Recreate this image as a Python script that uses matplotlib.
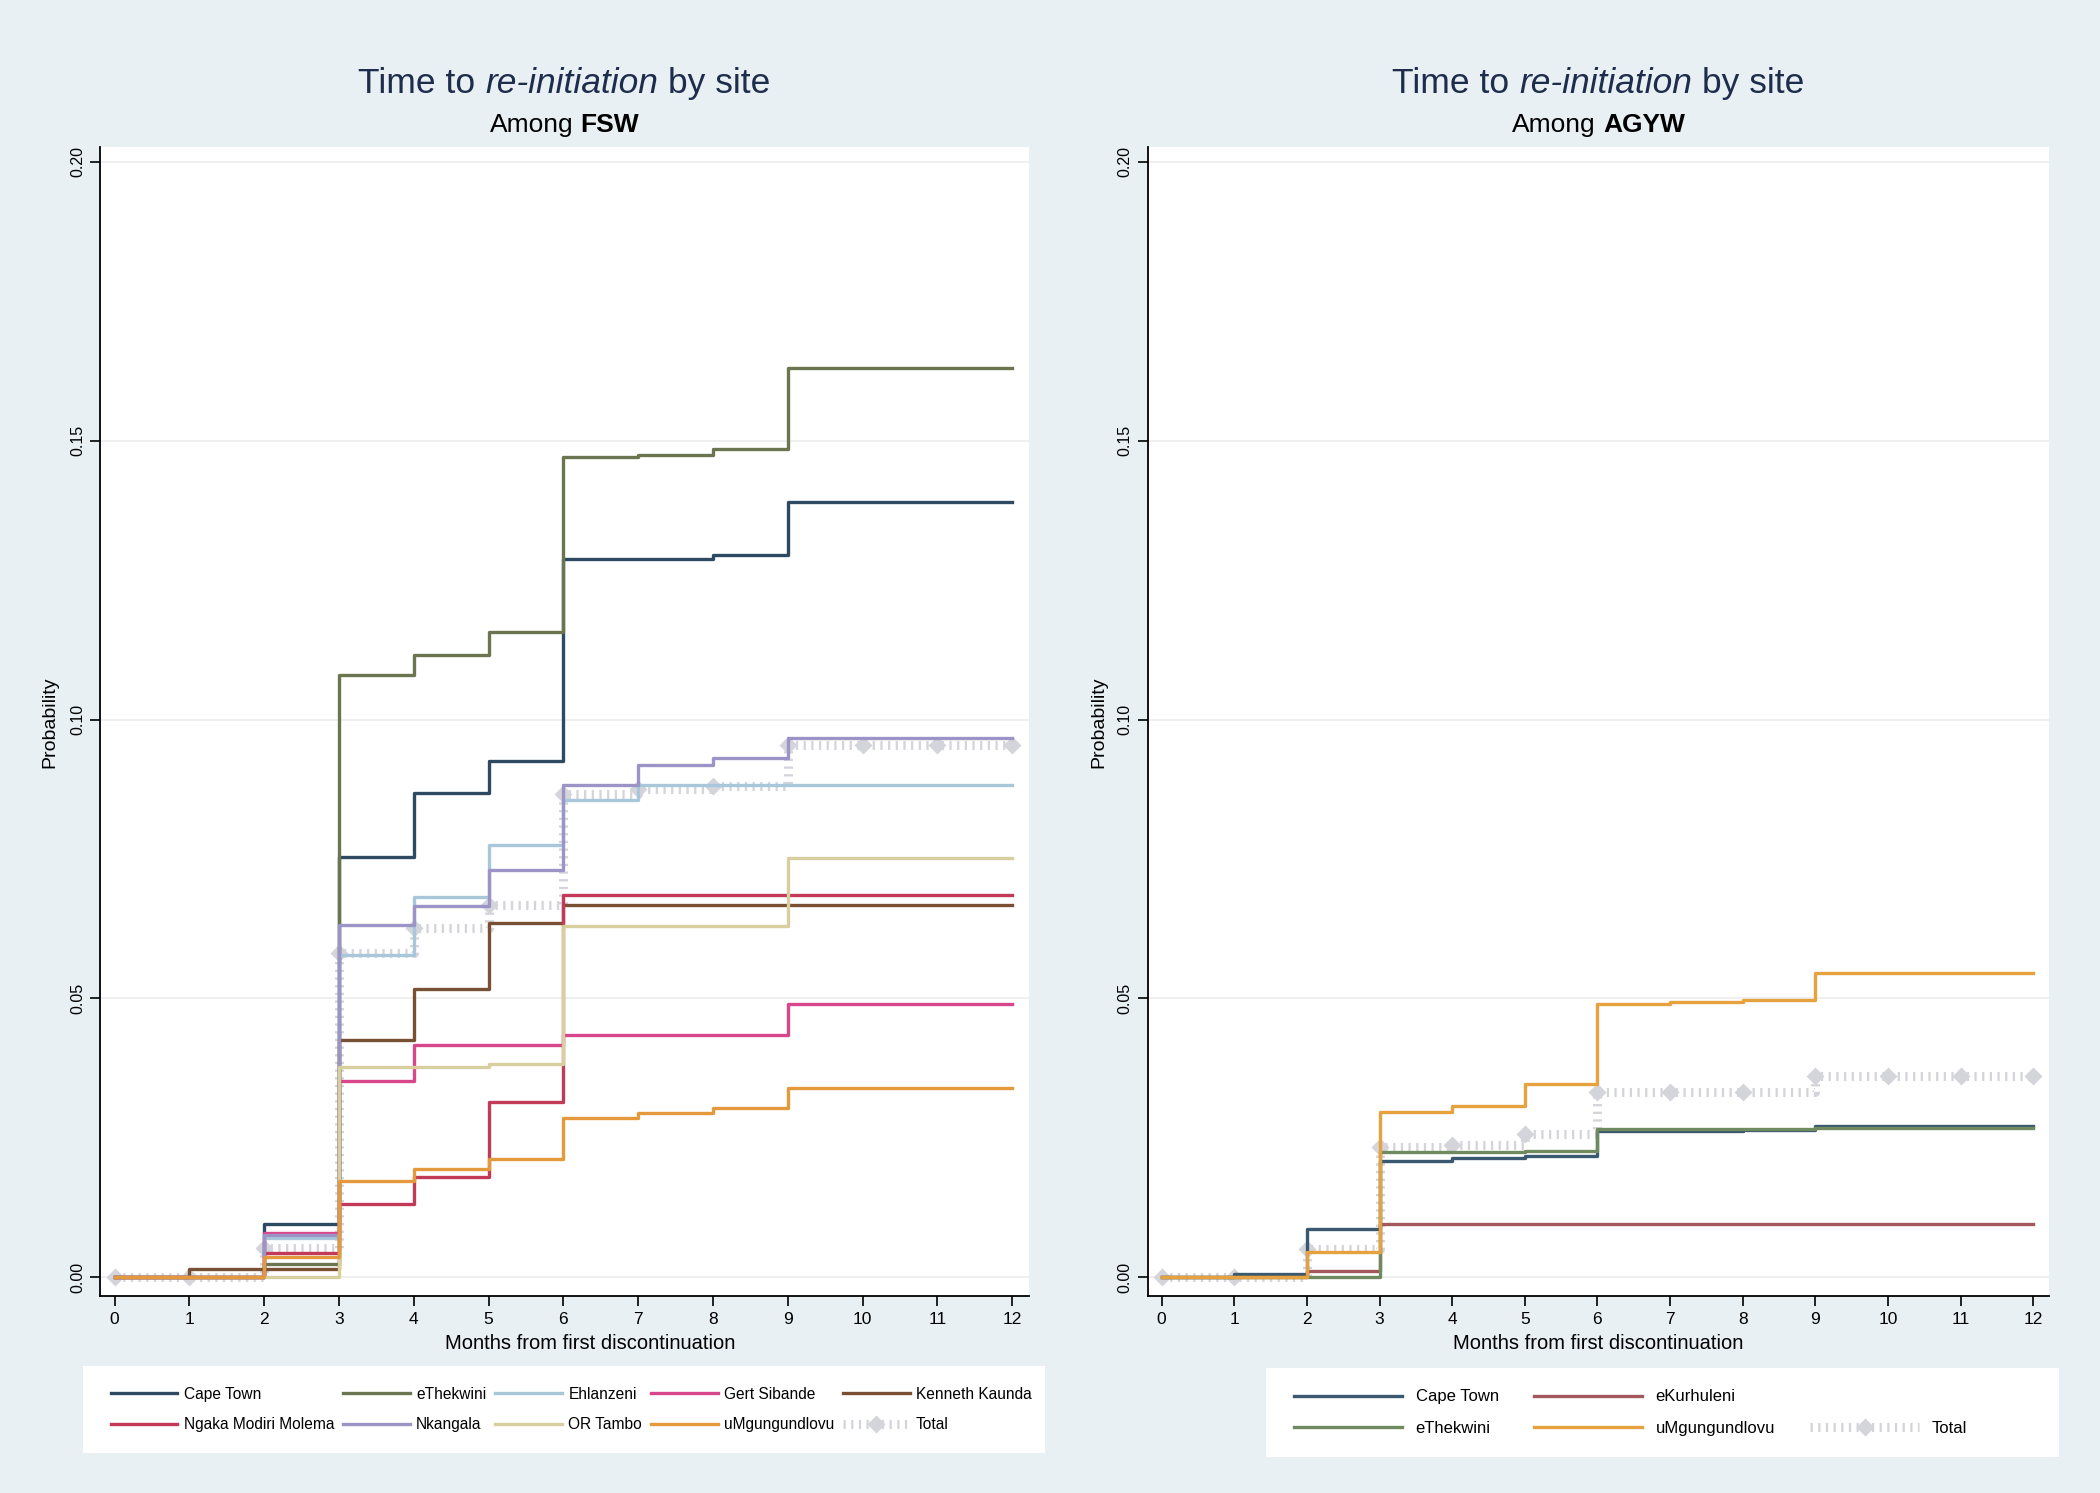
import matplotlib
matplotlib.use('Agg')
import matplotlib.pyplot as plt
from matplotlib.lines import Line2D
from matplotlib.patches import Rectangle
from matplotlib.ticker import FormatStrFormatter

plt.rcParams['font.family'] = ['Liberation Sans', 'DejaVu Sans']

# months from first discontinuation (value holds from month i to i+1)
months = list(range(13))

# FSW panel
fsw_sites = ['Cape Town', 'eThekwini', 'Ehlanzeni', 'Gert Sibande', 'Kenneth Kaunda',
             'Ngaka Modiri Molema', 'Nkangala', 'OR Tambo', 'uMgungundlovu']
fsw_cape_town = [0, 0, 0.0096, 0.0754, 0.0868, 0.0926, 0.1287, 0.1287, 0.1295, 0.139, 0.139, 0.139, 0.139]
fsw_ethekwini = [0, 0, 0.0024, 0.108, 0.1116, 0.1157, 0.147, 0.1474, 0.1485, 0.163, 0.163, 0.163, 0.163]
fsw_ehlanzeni = [0, 0, 0.0071, 0.0577, 0.0681, 0.0775, 0.0855, 0.0883, 0.0883, 0.0883, 0.0883, 0.0883, 0.0883]
fsw_gert_sibande = [0, 0, 0.0080, 0.0352, 0.0417, 0.0417, 0.0434, 0.0434, 0.0434, 0.049, 0.049, 0.049, 0.049]
fsw_kenneth_kaunda = [0, 0.0015, 0.0015, 0.0425, 0.0516, 0.0636, 0.0668, 0.0668, 0.0668, 0.0668, 0.0668, 0.0668, 0.0668]
fsw_ngaka = [0, 0, 0.0044, 0.0132, 0.0179, 0.0315, 0.0686, 0.0686, 0.0686, 0.0686, 0.0686, 0.0686, 0.0686]
fsw_nkangala = [0, 0, 0.0075, 0.0632, 0.0665, 0.073, 0.0883, 0.0919, 0.0931, 0.0967, 0.0967, 0.0967, 0.0967]
fsw_or_tambo = [0, 0, 0, 0.0377, 0.0377, 0.0382, 0.063, 0.063, 0.063, 0.0751, 0.0751, 0.0751, 0.0751]
fsw_umgungundlovu = [0, 0, 0.0036, 0.0172, 0.0194, 0.0212, 0.0285, 0.0294, 0.0304, 0.034, 0.034, 0.034, 0.034]
fsw_total = [0, 0, 0.0053, 0.0581, 0.0627, 0.0668, 0.0867, 0.0876, 0.088, 0.0955, 0.0955, 0.0955, 0.0955]

# AGYW panel
agyw_sites = ['Cape Town', 'eKurhuleni', 'eThekwini', 'uMgungundlovu']
agyw_cape_town = [0, 0.0006, 0.0087, 0.0209, 0.0214, 0.0217, 0.0262, 0.0262, 0.0264, 0.0272, 0.0272, 0.0272, 0.0272]
agyw_ekurhuleni = [0, 0, 0.0011, 0.0095, 0.0095, 0.0095, 0.0095, 0.0095, 0.0095, 0.0095, 0.0095, 0.0095, 0.0095]
agyw_ethekwini = [0, 0, 0, 0.0225, 0.0225, 0.0226, 0.0266, 0.0266, 0.0266, 0.0268, 0.0268, 0.0268, 0.0268]
agyw_umgungundlovu = [0, 0, 0.0046, 0.0296, 0.0307, 0.0347, 0.049, 0.0494, 0.0497, 0.0545, 0.0545, 0.0545, 0.0545]
agyw_total = [0, 0, 0.005, 0.0234, 0.0238, 0.0257, 0.0333, 0.0333, 0.0333, 0.036, 0.036, 0.036, 0.036]

fsw_series = [fsw_cape_town, fsw_ethekwini, fsw_ehlanzeni, fsw_gert_sibande, fsw_kenneth_kaunda,
              fsw_ngaka, fsw_nkangala, fsw_or_tambo, fsw_umgungundlovu]
fsw_colors = ['#2e4a62', '#6b7550', '#a9c7db', '#d8468c', '#7a5034',
              '#c23a58', '#9c94c6', '#d8cf9f', '#e49a3c']
agyw_series = [agyw_cape_town, agyw_ekurhuleni, agyw_ethekwini, agyw_umgungundlovu]
agyw_colors = ['#3a5870', '#a3585c', '#6f8a5e', '#e5a23f']

BG = '#e8f0f3'
TOTAL_C = '#d4d4db'
TITLE_C = '#1f2d4d'

fig = plt.figure(figsize=(21, 14.93), dpi=100, facecolor=BG)


def total_style():
    return dict(color=TOTAL_C, lw=6.5, dashes=(0.25, 0.6), solid_capstyle='butt')


def draw_panel(ax, series, colors, total, xlab_x):
    ax.set_facecolor('white')
    ax.step(months, total, where='post', zorder=2, **total_style())
    ax.plot(months, total, ls='none', marker='D', ms=9, color=TOTAL_C, mec='none', zorder=2)
    for vals, c in zip(series, colors):
        ax.step(months, vals, where='post', color=c, lw=2.4, zorder=3)
    ax.set_xlim(-0.19, 12.22)
    ax.set_ylim(-0.0034, 0.2026)
    ax.set_xticks(months)
    ax.set_yticks([0, 0.05, 0.10, 0.15, 0.20])
    ax.yaxis.set_major_formatter(FormatStrFormatter('%.2f'))
    ax.grid(axis='y', color='#ececec', lw=1.2, zorder=0)
    ax.set_axisbelow(True)
    for s in ['top', 'right']:
        ax.spines[s].set_visible(False)
    for s in ['left', 'bottom']:
        ax.spines[s].set_color('black')
        ax.spines[s].set_linewidth(1.3)
    ax.tick_params(axis='both', direction='out', length=7, width=1.2, color='black', pad=4)
    ax.tick_params(axis='x', labelsize=12.5)
    ax.tick_params(axis='y', labelsize=11.5)
    for lab in ax.get_yticklabels():
        lab.set_rotation(90)
        lab.set_va('center')
    ax.set_xlabel('Months from first discontinuation', fontsize=14.5)
    ax.xaxis.set_label_coords(xlab_x, -0.041)
    ax.xaxis.label.set_va('center')
    ax.set_ylabel('Probability', fontsize=14)
    ax.yaxis.set_label_coords(-0.054, 0.5)
    ax.yaxis.label.set_va('center')


def mixed_text(xc, y, parts, size, color):
    # parts: list of (text, style, weight); drawn side by side, centered at xc
    r = fig.canvas.get_renderer()
    probe = fig.text(0, 0, 'x x', fontsize=size)
    probe2 = fig.text(0, 0, 'xx', fontsize=size)
    space = probe.get_window_extent(r).width - probe2.get_window_extent(r).width
    probe.remove()
    probe2.remove()
    items = []
    widths = []
    for txt, style, weight in parts:
        t = fig.text(0, y, txt, fontsize=size, style=style, weight=weight,
                     color=color, va='center', ha='left')
        items.append(t)
        widths.append(t.get_window_extent(r).width)
    figw = fig.bbox.width
    total_w = sum(widths) + space * (len(parts) - 1)
    x = xc * figw - total_w / 2
    for t, w in zip(items, widths):
        t.set_x(x / figw)
        x += w + space


ax1 = fig.add_axes([0.0478, 0.1318, 0.442, 0.7695])
ax2 = fig.add_axes([0.5466, 0.1318, 0.4292, 0.7695])
draw_panel(ax1, fsw_series, fsw_colors, fsw_total, 0.528)
draw_panel(ax2, agyw_series, agyw_colors, agyw_total, 0.5)

for ax, grp in [(ax1, 'FSW'), (ax2, 'AGYW')]:
    pos = ax.get_position()
    xc = (pos.x0 + pos.x1) / 2
    mixed_text(xc, 0.944, [('Time to', 'normal', 'normal'), ('re-initiation', 'italic', 'normal'),
                           ('by site', 'normal', 'normal')], 25.5, TITLE_C)
    mixed_text(xc, 0.9166, [('Among', 'normal', 'normal'), (grp, 'normal', 'bold')], 19, 'black')

# white legend boxes
fig.patches.append(Rectangle((0.0395, 0.0269), 0.458, 0.0583, transform=fig.transFigure,
                             facecolor='white', edgecolor='none', zorder=0))
fig.patches.append(Rectangle((0.6027, 0.0242), 0.3776, 0.0592, transform=fig.transFigure,
                             facecolor='white', edgecolor='none', zorder=0))

# legends
total_handle = Line2D([], [], marker='D', ms=9, mec='none', **total_style())
fsw_handles = [Line2D([], [], color=c, lw=2.4) for c in fsw_colors] + [total_handle]
fsw_labels = fsw_sites + ['Total']
# column-major fill so rows read: first five, then last five
order = [0, 5, 1, 6, 2, 7, 3, 8, 4, 9]
fig.legend([fsw_handles[i] for i in order], [fsw_labels[i] for i in order],
           loc='center', bbox_to_anchor=(0.046, 0.0269, 0.452, 0.0583),
           bbox_transform=fig.transFigure, mode='expand', ncol=5,
           frameon=False, fontsize=11.2, handlelength=4.3, handletextpad=0.4,
           borderpad=0.9, labelspacing=1.0, borderaxespad=0)

agyw_handles = [Line2D([], [], color=c, lw=2.4) for c in agyw_colors]
blank = Line2D([], [], color='none')
fig.legend([agyw_handles[0], agyw_handles[2], agyw_handles[1], agyw_handles[3], blank, total_handle],
           ['Cape Town', 'eThekwini', 'eKurhuleni', 'uMgungundlovu', ' ', 'Total'],
           loc='center', bbox_to_anchor=(0.609, 0.0242, 0.335, 0.0592),
           bbox_transform=fig.transFigure, mode='expand', ncol=3,
           frameon=False, fontsize=12, handlelength=6.5, handletextpad=0.8,
           borderpad=0.9, labelspacing=1.0, borderaxespad=0)

fig.savefig('out.png', dpi=100, facecolor=BG)
